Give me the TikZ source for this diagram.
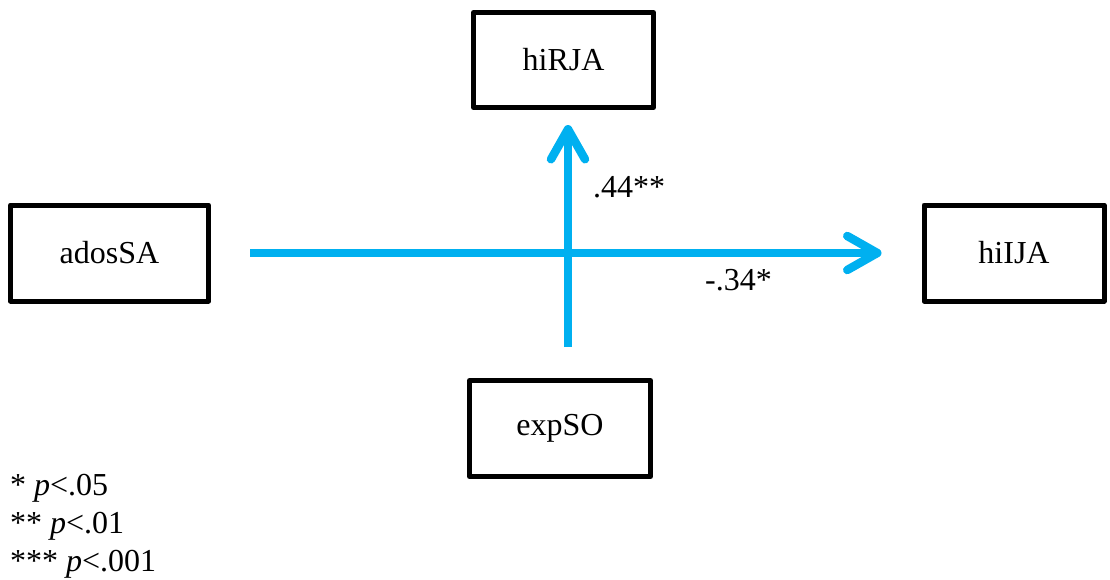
\documentclass[tikz,border=0pt]{standalone}
\usepackage{fontspec}
\setmainfont{Liberation Serif}
\usetikzlibrary{arrows.meta}
\definecolor{arrowblue}{HTML}{00B0F0}
\begin{document}
\begin{tikzpicture}[x=1pt,y=-1pt,
  box/.style={draw=black, line width=5pt, line join=round, outer sep=0pt, inner sep=0pt,
    minimum height=96pt, font=\fontsize{32}{38}\selectfont},
  conn/.style={draw=arrowblue, line width=8.5pt,
    -{Straight Barb[length=30pt,width=34pt,line cap=round,line join=round]}},
  lbl/.style={font=\fontsize{32}{38}\selectfont, inner sep=0pt, anchor=base west}]
\useasboundingbox (0,0) rectangle (1110,579);
\node[box, minimum width=180pt, minimum height=95pt] (hiRJA) at (563.5,60) {hiRJA};
\node[box, minimum width=198pt] (adosSA) at (109.5,253) {adosSA};
\node[box, minimum width=180pt] (hiIJA) at (1014,253) {hiIJA};
\node[box, minimum width=181pt] (expSO) at (560,428.5) {expSO};
\draw[conn, shorten <=41.5pt, shorten >=42.5pt] (adosSA.east) -- (hiIJA.west);
\draw[conn, shorten <=33.5pt, shorten >=17.5pt] ([xshift=8pt]expSO.north) -- ([xshift=4.5pt]hiRJA.south);
\node[lbl] (l44) at (593,197) {.44**};
\node[lbl] (l34) at (705,290) {-.34*};
\node[lbl] (leg1) at (10,495) {* \textit{p}<.05};
\node[lbl] (leg2) at (10,533) {** \textit{p}<.01};
\node[lbl] (leg3) at (10,571) {*** \textit{p}<.001};
\end{tikzpicture}
\end{document}
